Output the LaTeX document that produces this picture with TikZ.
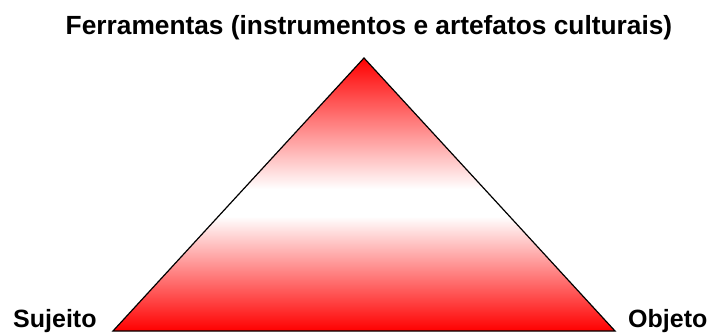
\documentclass[tikz,border=0pt]{standalone}
\usepackage{fontspec}
\setmainfont{Liberation Sans}
\pgfdeclareverticalshading{redwhitered}{100bp}{color(0bp)=(red); color(25bp)=(red); color(46bp)=(white); color(51bp)=(white); color(75bp)=(red); color(100bp)=(red)}
\begin{document}
\begin{tikzpicture}[x=1pt,y=1pt,
  lbl/.style={inner sep=0pt,font=\fontsize{25}{28}\selectfont\bfseries},
  ttl/.style={inner sep=0pt,font=\fontsize{26.3}{30}\selectfont\bfseries}]
\useasboundingbox[fill=white] (0,0) rectangle (717,332);
\coordinate (apex) at (364,274);
\coordinate (bl) at (113,1);
\coordinate (br) at (615,1);
\shade[shading=redwhitered] (apex) -- (bl) -- (br) -- cycle;
\draw[line width=1.2pt, line join=miter] (apex) -- (bl) -- (br) -- cycle;
\node[ttl, anchor=base] (title) at (369,297) {Ferramentas (instrumentos e artefatos culturais)};
\node[lbl, anchor=base west] (sujeito) at (13,5) {Sujeito};
\node[lbl, anchor=base west] (objeto) at (628,5) {Objeto};
\end{tikzpicture}
\end{document}
